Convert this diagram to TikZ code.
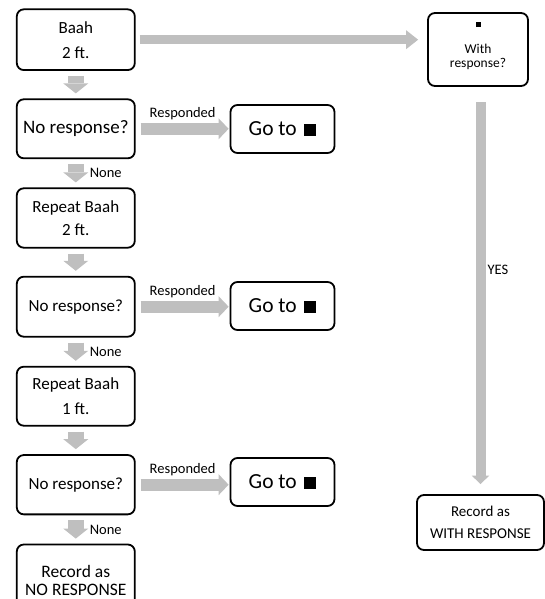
\documentclass[tikz,border=0pt]{standalone}
\usepackage{fontspec}
\setmainfont{Carlito}
\usetikzlibrary{arrows.meta}
\definecolor{arrgray}{RGB}{191,191,191}
\begin{document}
\begin{tikzpicture}[x=1pt,y=-1pt,
  box/.style={draw, line width=1.8pt, rounded corners=7pt, align=center, inner sep=0pt},
  lbox/.style={box, minimum width=118pt},
  gbox/.style={box, minimum width=104pt, minimum height=48pt, font=\fontsize{21.5}{24}\selectfont},
  lbl/.style={inner sep=0pt, outer sep=0pt, font=\fontsize{14.5}{16}\selectfont},
  downarr/.style={draw=arrgray, line width=16pt, -{Triangle[width=25pt,length=10pt,line width=0pt]}, shorten <=5pt, shorten >=5pt},
  resparr/.style={draw=arrgray, line width=12pt, -{Triangle[width=21pt,length=10pt,line width=0pt]}, shorten <=5pt, shorten >=1pt},
  toparr/.style={draw=arrgray, line width=9pt, -{Triangle[width=19pt,length=12pt,line width=0pt]}, shorten <=4pt, shorten >=9pt},
  yesarr/.style={draw=arrgray, line width=10pt, -{Triangle[width=17.5pt,length=8.5pt,line width=0pt]}, shorten <=15.5pt, shorten >=10pt}
]
\useasboundingbox (0,0) rectangle (545,599);

% left column
\node[lbox, minimum height=60.7pt, font=\fontsize{17}{25}\selectfont] (b1) at (75.8,39.7) {Baah\\2 ft.};
\node[lbox, minimum height=59pt, font=\fontsize{19}{22}\selectfont] (nr1) at (75.8,128.8) {No response?};
\node[lbox, minimum height=59.4pt, font=\fontsize{17}{23.5}\selectfont] (rb2) at (75.8,218) {Repeat Baah\\2 ft.};
\node[lbox, minimum height=60pt, font=\fontsize{17}{20}\selectfont] (nr2) at (75.8,306.7) {No response?};
\node[lbox, minimum height=59pt, font=\fontsize{17}{25}\selectfont] (rb1) at (75.8,396.2) {Repeat Baah\\1 ft.};
\node[lbox, minimum height=59.3pt, font=\fontsize{17}{20}\selectfont] (nr3) at (75.8,484.7) {No response?};
\node[lbox, minimum height=71pt, font=\fontsize{17.5}{18}\selectfont] (nrr) at (75.8,580) {Record as\\NO RESPONSE};

% go-to boxes
\node[gbox] (g1) at (282.5,129) {Go to\hspace{7pt}\rule{12.5pt}{12pt}};
\node[gbox] (g2) at (282.5,306) {Go to\hspace{7pt}\rule{12.5pt}{12pt}};
\node[gbox] (g3) at (282.5,482) {Go to\hspace{7pt}\rule{12.5pt}{12pt}};

% right column
\node[box, minimum width=100pt, minimum height=73pt, font=\fontsize{13.5}{13.5}\selectfont] (wr) at (478,49.5)
  {\rule{5pt}{5pt}\\[13pt]With\\response?\rule[-9.5pt]{0pt}{9.5pt}};
\node[box, minimum width=127pt, minimum height=55pt, font=\fontsize{15}{22}\selectfont] (wrr) at (480.5,522.5)
  {Record as\\WITH RESPONSE};

% connectors
\draw[toparr] (b1.east) -- (b1.east -| wr.west);
\draw[downarr] (b1.south) -- (nr1.north);
\draw[downarr] (nr1.south) -- node[lbl, anchor=west, xshift=14pt] (n1) {None} (rb2.north);
\draw[downarr] (rb2.south) -- (nr2.north);
\draw[downarr] (nr2.south) -- node[lbl, anchor=west, xshift=14pt] (n2) {None} (rb1.north);
\draw[downarr] (rb1.south) -- (nr3.north);
\draw[downarr] (nr3.south) -- node[lbl, anchor=west, xshift=14pt] (n3) {None} (nrr.north);

\draw[resparr] (nr1.east) -- node[lbl, anchor=base, yshift=11pt] (r1) {Responded} (nr1.east -| g1.west);
\draw[resparr] (nr2.east) -- node[lbl, anchor=base, yshift=11pt] (r2) {Responded} (nr2.east -| g2.west);
\draw[resparr] (nr3.east) -- node[lbl, anchor=base, yshift=11pt] (r3) {Responded} (nr3.east -| g3.west);

\draw[yesarr] (wr.south -| wrr.north) -- node[lbl, pos=0.45, anchor=west, xshift=7pt] (yes) {YES} (wrr.north);
\end{tikzpicture}
\end{document}
